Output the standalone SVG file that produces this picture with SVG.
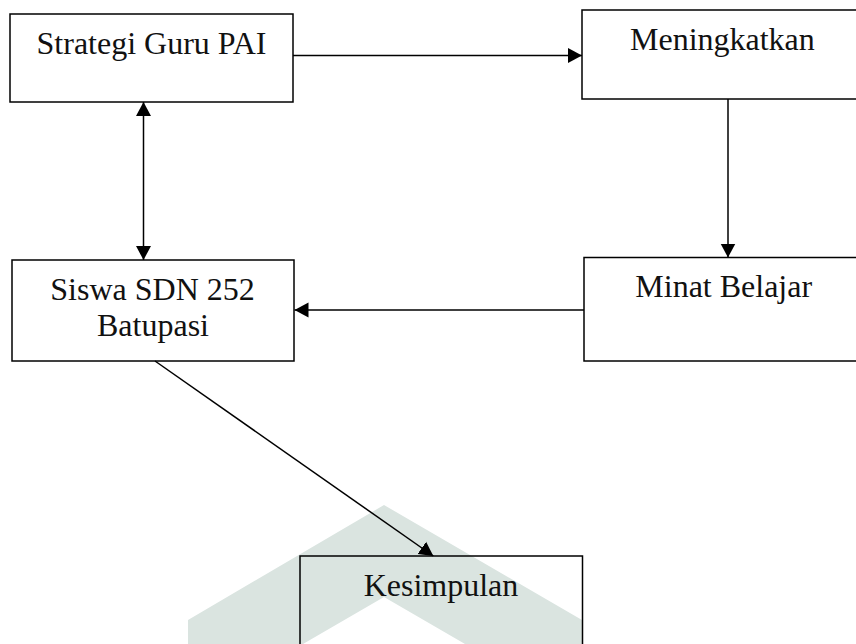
<svg xmlns="http://www.w3.org/2000/svg" width="856" height="644" viewBox="0 0 856 644">
  <style>
    .box { fill: none; stroke: #000; stroke-width: 1.5; }
    .lbl { font-family: "Liberation Serif", "Times New Roman", serif; font-size: 32px; fill: #111; text-anchor: middle; }
    .conn { stroke: #000; stroke-width: 1.5; fill: none; }
    .wm { fill: #dae4e0; }
  </style>
  <defs>
    <marker id="arrow" markerUnits="userSpaceOnUse" markerWidth="15" markerHeight="16" refX="14" refY="7.5" orient="auto-start-reverse" viewBox="0 0 15 15">
      <path d="M0,0 L14,7.5 L0,15 z" fill="#000"/>
    </marker>
  </defs>
  <rect width="856" height="644" fill="#fff"/>
  <polygon class="wm" points="188,644 188,620 384,505 582,620 582,644 465,644 384,597 303,644"/>

  <g id="connectors">
    <line class="conn" x1="293" y1="55.5" x2="582" y2="55.5" marker-end="url(#arrow)"/>
    <line class="conn" x1="143.5" y1="102" x2="143.5" y2="260" marker-start="url(#arrow)" marker-end="url(#arrow)"/>
    <line class="conn" x1="728" y1="99" x2="728" y2="257.5" marker-end="url(#arrow)"/>
    <line class="conn" x1="584" y1="310" x2="294.5" y2="310" marker-end="url(#arrow)"/>
    <line class="conn" x1="155" y1="361" x2="433.3" y2="556" marker-end="url(#arrow)"/>
  </g>

  <g id="node-strategi">
    <rect class="box" x="10" y="14" width="283" height="88"/>
    <text class="lbl" x="151.5" y="54">Strategi Guru PAI</text>
  </g>
  <g id="node-meningkatkan">
    <rect class="box" x="582" y="10" width="290" height="89"/>
    <text class="lbl" x="722.4" y="50">Meningkatkan</text>
  </g>
  <g id="node-siswa">
    <rect class="box" x="12" y="260" width="282" height="101"/>
    <text class="lbl" x="152.5" y="300">Siswa SDN 252</text>
    <text class="lbl" x="153" y="336">Batupasi</text>
  </g>
  <g id="node-minat">
    <rect class="box" x="584" y="257.5" width="290" height="103.5"/>
    <text class="lbl" x="723.7" y="296.7">Minat Belajar</text>
  </g>
  <g id="node-kesimpulan">
    <rect class="box" x="300" y="556" width="282.5" height="100"/>
    <text class="lbl" x="441" y="595.5">Kesimpulan</text>
  </g>
</svg>
